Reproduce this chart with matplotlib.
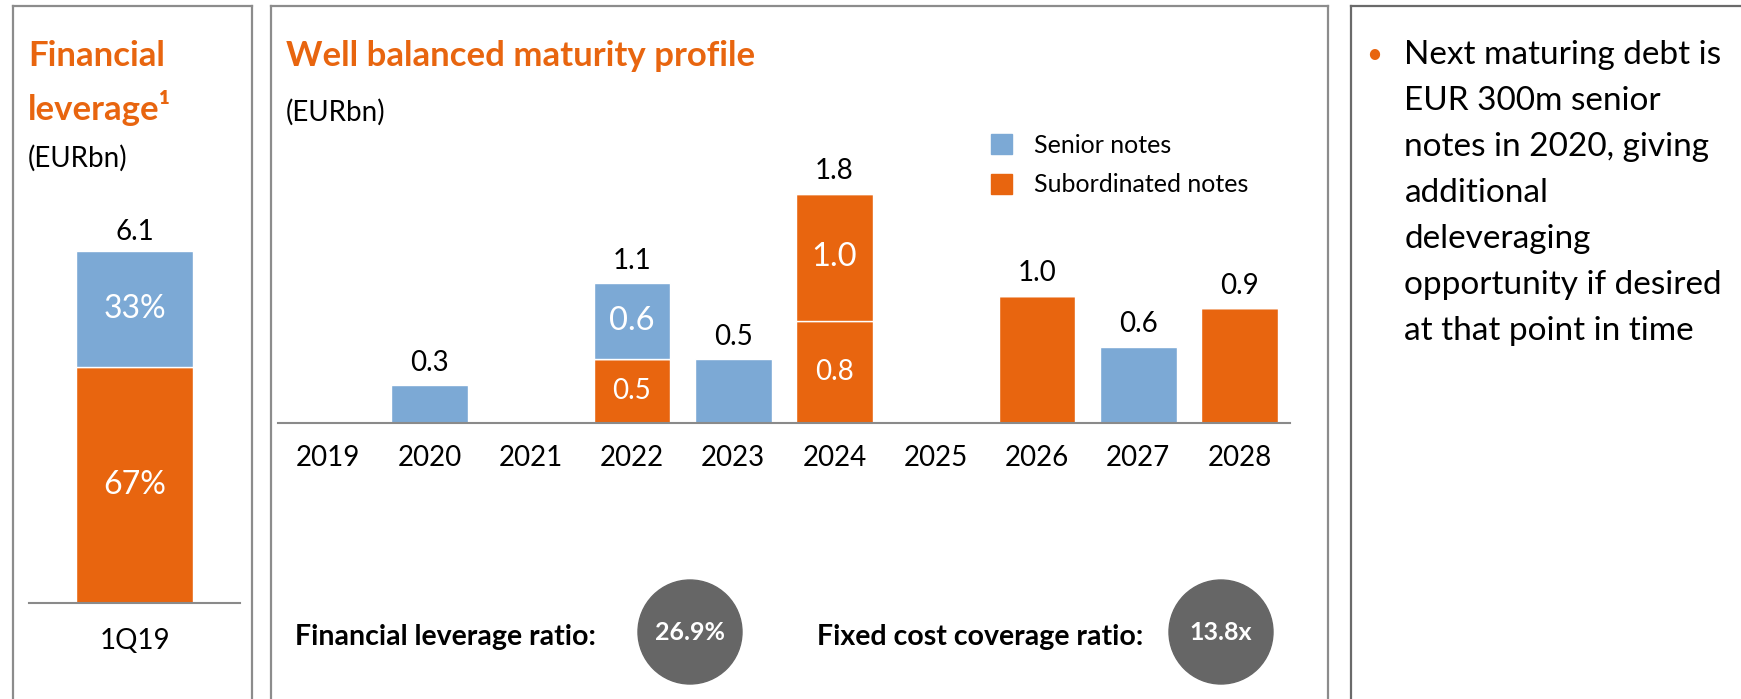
import matplotlib.pyplot as plt
from matplotlib.lines import Line2D
from matplotlib.patches import Ellipse, Patch

plt.rcParams["font.family"] = ["Lato", "DejaVu Sans"]

ORANGE = "#E8650F"
BLUE = "#7CA9D5"
GREY = "#8A8A8A"
CIRCLE = "#666666"

# left panel: financial leverage
lev_period = ["1Q19"]
lev_total = 6.1
lev_shares = [67, 33]  # subordinated, senior (%)

# middle panel: maturity profile (EURbn)
years = ["2019", "2020", "2021", "2022", "2023", "2024", "2025", "2026", "2027", "2028"]
senior = [0, 0.3, 0, 0.6, 0.5, 0, 0, 0, 0.6, 0]
sub_a = [0, 0, 0, 0.5, 0, 0.8, 0, 1.0, 0, 0.9]
sub_b = [0, 0, 0, 0, 0, 1.0, 0, 0, 0, 0]

ratio_names = ["Financial leverage ratio:", "Fixed cost coverage ratio:"]
ratio_values = ["26.9%", "13.8x"]

bullet_lines = [
    "Next maturing debt is",
    "EUR 300m senior",
    "notes in 2020, giving",
    "additional",
    "deleveraging",
    "opportunity if desired",
    "at that point in time",
]

W, H = 1741, 699


def fx(px):
    return px / W


def fy(py):
    return 1 - py / H


def box(fig, x0, x1, color, right=True):
    top = 6
    fig.add_artist(Line2D([fx(x0), fx(x0)], [fy(H + 2), fy(top)], color=color, lw=1.6))
    fig.add_artist(Line2D([fx(x0), fx(x1)], [fy(top), fy(top)], color=color, lw=1.6))
    if right:
        fig.add_artist(Line2D([fx(x1), fx(x1)], [fy(top), fy(H + 2)], color=color, lw=1.6))


def style_axis(ax, pad):
    for s in ["top", "right", "left"]:
        ax.spines[s].set_visible(False)
    ax.spines["bottom"].set_color(GREY)
    ax.spines["bottom"].set_linewidth(1.5)
    ax.set_yticks([])
    ax.tick_params(axis="x", length=0, pad=pad, labelsize=20)
    ax.patch.set_alpha(0)


def main():
    fig = plt.figure(figsize=(W / 100, H / 100), dpi=100)

    box(fig, 12.7, 251.7, "#8C8C8C")
    box(fig, 270.7, 1328, "#8C8C8C")
    box(fig, 1351, W + 5, "#6A6A6A", right=False)

    # ---- left panel
    fig.text(fx(28), fy(56), "Financial", color=ORANGE, fontsize=25,
             fontweight="bold", va="center")
    fig.text(fx(28), fy(108), "leverage¹", color=ORANGE, fontsize=25,
             fontweight="bold", va="center")
    fig.text(fx(28), fy(158), "(EURbn)", fontsize=20, va="center")

    ax1 = fig.add_axes([fx(29), fy(603), (240 - 29) / W, 7 * 57.7 / H])
    sub_h = lev_total * lev_shares[0] / 100
    sen_h = lev_total * lev_shares[1] / 100
    ax1.bar(0, sub_h, width=0.55, color=ORANGE, edgecolor="white", lw=1)
    ax1.bar(0, sen_h, width=0.55, bottom=sub_h, color=BLUE, edgecolor="white", lw=1)
    ax1.text(0, sub_h / 2, f"{lev_shares[0]}%", color="white", fontsize=23,
             ha="center", va="center")
    ax1.text(0, sub_h + sen_h / 2, f"{lev_shares[1]}%", color="white",
             fontsize=23, ha="center", va="center")
    ax1.annotate(f"{lev_total:.1f}", (0, lev_total), xytext=(0, 14),
                 textcoords="offset points", ha="center", va="center", fontsize=20)
    ax1.set_xlim(-0.5, 0.5)
    ax1.set_ylim(0, 7)
    ax1.set_xticks([0], lev_period)
    style_axis(ax1, 18)

    # ---- middle panel
    fig.text(fx(286), fy(56), "Well balanced maturity profile", color=ORANGE,
             fontsize=25, fontweight="bold", va="center")
    fig.text(fx(286), fy(112), "(EURbn)", fontsize=20, va="center")

    ax2 = fig.add_axes([fx(277.6), fy(423), 1012.5 / W, 2.5 * 127.5 / H])
    x = range(len(years))
    bw = 0.76
    ax2.bar(x, sub_a, width=bw, color=ORANGE, edgecolor="white", lw=1)
    ax2.bar(x, sub_b, width=bw, bottom=sub_a, color=ORANGE,
            edgecolor="white", lw=1)
    base_sen = [a + b for a, b in zip(sub_a, sub_b)]
    ax2.bar(x, senior, width=bw, bottom=base_sen, color=BLUE,
            edgecolor="white", lw=1)
    for i in x:
        segs = [(sub_a[i], 0), (sub_b[i], sub_a[i]), (senior[i], base_sen[i])]
        segs = [s for s in segs if s[0] > 0]
        total = sum(s[0] for s in segs)
        if total == 0:
            continue
        ax2.annotate(f"{total:.1f}", (i, total), xytext=(0, 16),
                     textcoords="offset points", ha="center", va="center",
                     fontsize=20)
        if len(segs) > 1:
            for k, (h, b) in enumerate(segs):
                ax2.text(i, b + h / 2, f"{h:.1f}", color="white",
                         fontsize=20 if k == 0 else 23.5,
                         ha="center", va="center")
    ax2.set_xlim(-0.5, 9.5)
    ax2.set_ylim(0, 2.5)
    ax2.set_xticks(list(x), years)
    style_axis(ax2, 16)

    fig.legend(handles=[Patch(color=BLUE), Patch(color=ORANGE)],
               labels=["Senior notes", "Subordinated notes"],
               loc="upper left", bbox_to_anchor=(fx(991), fy(134)),
               frameon=False, fontsize=18, handlelength=0.85,
               handleheight=0.85, handletextpad=0.85, labelspacing=0.65,
               borderpad=0, borderaxespad=0)

    # ratios with grey circles
    name_x = [295, 817]
    circ_x = [690, 1221]
    for name, val, nx, cx in zip(ratio_names, ratio_values, name_x, circ_x):
        fig.text(fx(nx), fy(637), name, fontsize=20.5, fontweight="bold", va="center")
        fig.add_artist(Ellipse((fx(cx), fy(632)), 104 / W, 104 / H,
                               transform=fig.transFigure, color=CIRCLE))
        fig.text(fx(cx), fy(632), val, color="white", fontsize=18,
                 fontweight="bold", ha="center", va="center")

    # ---- right panel
    fig.text(fx(1374), fy(55), "•", color=ORANGE, fontsize=20, ha="center",
             va="center")
    for k, line in enumerate(bullet_lines):
        fig.text(fx(1404.5), fy(55 + 46 * k), line, fontsize=24, va="center")

    fig.savefig("out.png", dpi=100)


if __name__ == "__main__":
    main()
